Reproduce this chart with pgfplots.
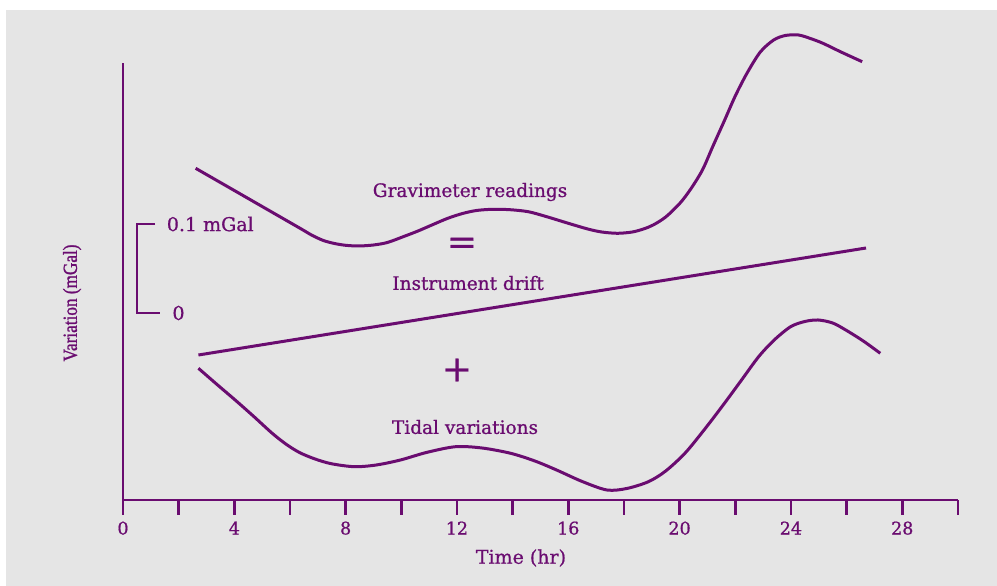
\documentclass[border=0pt]{standalone}
\usepackage{pgfplots}
\pgfplotsset{compat=1.18}
\usepackage{fontspec}
\setmainfont{DejaVu Serif}[FakeBold=0.8]
\newfontfamily\timesfont{Liberation Serif}[FakeBold=1.2, FakeStretch=0.86]
\definecolor{pur}{RGB}{106,12,112}
\definecolor{bg}{RGB}{229,229,229}
\begin{document}
\begin{tikzpicture}
\fill[white] (-123pt,-86pt) rectangle (874pt,500pt);
\fill[bg] (-117pt,-86pt) rectangle (874pt,490pt);
\begin{axis}[
  at={(0,0)}, anchor=origin,
  x=27.83pt, y=1pt,
  xmin=0, xmax=30, ymin=0, ymax=437,
  axis x line=bottom, axis y line=left,
  axis line style={-, line width=2.6pt, pur},
  clip=false,
  ytick=\empty,
  xtick={0,4,...,28},
  minor xtick={2,6,...,30},
  tick align=outside,
  major tick length=15pt, minor tick length=15pt,
  every tick/.style={pur, line width=2.6pt},
  xticklabel style={font=\fontsize{17.5}{20}\selectfont, text=pur, yshift=-3pt},
  /pgf/number format/assume math mode=true,
]
% Gravimeter readings
\addplot[pur, line width=3pt, smooth] coordinates {
(2.61,331.7) (4.3,304.7) (5.5,285.5) (6.4,271.1) (6.8,264.6) (7.2,259.5)
(7.6,256.5) (8.0,254.7) (8.47,254) (9.0,255) (9.5,257.5) (10.07,263.3)
(10.6,269) (11.1,275) (11.67,281.7) (12.2,286.5) (12.7,289.5) (13.28,290.7)
(13.9,290.3) (14.56,288.3) (15.2,283.5) (16.0,276.7) (16.7,271) (17.2,268)
(17.77,266.7) (18.3,268) (18.7,271) (19.05,275) (19.5,283) (20.01,296.7)
(20.4,311) (20.82,330) (21.2,354) (21.62,380) (22.0,404) (22.42,426.7)
(22.9,448) (23.38,460) (23.8,464.5) (24.27,465) (24.7,461.5) (25.15,456.7)
(25.8,448) (26.56,438.3)
};
% Instrument drift
\addplot[pur, line width=3pt] coordinates {(2.71,145) (26.7,252)};
% Tidal variations
\addplot[pur, line width=3pt, smooth] coordinates {
(2.71,131.7) (3.4,115) (4.03,100) (4.7,83.5) (5.35,67) (5.85,56) (6.34,47.5)
(6.9,41) (7.5,36.2) (8.32,33.3) (9.1,35) (9.97,40) (10.9,47.5) (11.95,53.3)
(12.9,52) (13.93,46.7) (14.8,39) (15.58,30) (16.5,18.5) (17.39,10) (18.1,11.5)
(18.88,18.3) (19.5,29) (20.19,46.7) (20.85,69) (21.52,93.3) (22.2,119)
(22.84,143.3) (23.4,160) (23.99,173.3) (24.5,178.5) (24.98,180) (25.5,177)
(25.97,170) (26.6,159) (27.21,146.7)
};
% scale bar
\draw[pur, line width=2.6pt] (axis cs:1.15,276) -- (axis cs:0.5,276) -- (axis cs:0.5,187) -- (axis cs:1.33,187);
\node[anchor=west, text=pur, font=\fontsize{19}{20}\selectfont] at (axis cs:1.45,276) {0.1 mGal};
\node[anchor=west, text=pur, font=\fontsize{19}{20}\selectfont] at (axis cs:1.65,187) {0};
% annotations
\node[text=pur, font=\fontsize{18.5}{20}\selectfont] at (axis cs:12.47,308) {Gravimeter readings};
\node[text=pur, font=\fontsize{36}{40}\selectfont] at (axis cs:12.18,254) {=};
\node[text=pur, font=\fontsize{18.5}{20}\selectfont] at (axis cs:12.4,217) {Instrument drift};
\node[text=pur, font=\fontsize{36}{40}\selectfont] at (axis cs:12.0,130) {+};
\node[text=pur, font=\fontsize{18.5}{20}\selectfont] at (axis cs:12.29,73) {Tidal variations};
% axis labels
\node[text=pur, font=\fontsize{19}{20}\selectfont] at (axis cs:14.3,-58) {Time (hr)};
\node[text=pur, rotate=90, font=\timesfont\fontsize{20}{22}\selectfont] at (axis cs:-1.83,197) {Variation (mGal)};
\end{axis}
\end{tikzpicture}
\end{document}
